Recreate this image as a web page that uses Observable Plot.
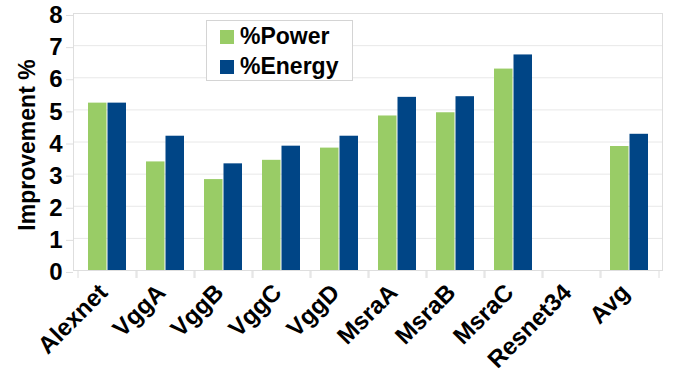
<!DOCTYPE html>
<html>
<head>
<meta charset="utf-8">
<script src="https://cdn.jsdelivr.net/npm/d3@7"></script>
<script src="https://cdn.jsdelivr.net/npm/@observablehq/plot@0.6"></script>
<style>
  html, body { margin: 0; padding: 0; background: #fff; }
  #wrap { position: relative; width: 676px; height: 374px; font-family: "Liberation Sans", Arial, sans-serif; }
  #legend { position: absolute; left: 206px; top: 20px; width: 145px; height: 59px; border: 1px solid #d4d4d4; background: #fff; box-sizing: content-box; }
  .item { position: absolute; left: 13px; display: flex; align-items: center; font-weight: bold; font-size: 23px; color: #000; line-height: 1; }
  .sw { width: 14px; height: 14px; margin-right: 6px; }
</style>
</head>
<body>
<div id="wrap"></div>
<script>
const categories = ["Alexnet", "VggA", "VggB", "VggC", "VggD", "MsraA", "MsraB", "MsraC", "Resnet34", "Avg"];
const powerValues = [5.21, 3.38, 2.83, 3.43, 3.81, 4.81, 4.91, 6.27, null, 3.86];
const energyValues = [5.21, 4.18, 3.32, 3.87, 4.18, 5.39, 5.41, 6.71, null, 4.24];
const yTicks = [0, 1, 2, 3, 4, 5, 6, 7, 8];
const seriesNames = ["%Power", "%Energy"];
const seriesColors = ["#99cc66", "#004586"];
const yTitle = "Improvement %";

const table = categories.map((c, i) => ({category: c, power: powerValues[i], energy: energyValues[i]}));
const gray = "#dedede";
const font = "Liberation Sans, Arial, sans-serif";

const chart = Plot.plot({
  width: 676,
  height: 374,
  marginLeft: 73,
  marginRight: 14,
  marginTop: 13,
  marginBottom: 104,
  style: {fontFamily: font, color: "#000", background: "#fff"},
  x: {domain: categories, padding: 0, axis: null},
  y: {domain: [0, 8], axis: null},
  marks: [
    Plot.gridY(yTicks, {stroke: "#e8e8e8", strokeOpacity: 1}),
    Plot.frame({stroke: gray}),
    Plot.barY(table.filter(d => d.power != null), {x: "category", y: "power", fill: seriesColors[0], insetLeft: 10, insetRight: 29.5}),
    Plot.barY(table.filter(d => d.energy != null), {x: "category", y: "energy", fill: seriesColors[1], insetLeft: 29.5, insetRight: 10}),
    Plot.axisY({ticks: yTicks, tickSize: 7, stroke: gray, strokeOpacity: 1, tickPadding: 4, dy: 2, fontSize: 24, fontWeight: "bold", label: null}),
    Plot.axisX({tickSize: 8, stroke: gray, strokeOpacity: 1, tickFormat: () => "", dx: -29.5, label: null}),
    Plot.axisX({tickSize: 8, stroke: gray, strokeOpacity: 1, tickFormat: () => "", dx: 29.5, label: null}),
    Plot.axisX({tickSize: 0, tickRotate: -45, tickPadding: 18, dx: -4, fontSize: 24, fontWeight: "bold", label: null}),
    Plot.text([yTitle], {frameAnchor: "left", textAnchor: "middle", rotate: -90, dx: -46, dy: 3, fontSize: 23, fontWeight: "bold", fill: "#000"})
  ]
});

const wrap = document.getElementById("wrap");
wrap.appendChild(chart);

const legend = document.createElement("div");
legend.id = "legend";
seriesNames.forEach((name, i) => {
  const item = document.createElement("div");
  item.className = "item";
  item.style.top = (i === 0 ? 4 : 34) + "px";
  const sw = document.createElement("span");
  sw.className = "sw";
  sw.style.background = seriesColors[i];
  const label = document.createElement("span");
  label.textContent = name;
  item.appendChild(sw);
  item.appendChild(label);
  legend.appendChild(item);
});
wrap.appendChild(legend);
</script>
</body>
</html>
